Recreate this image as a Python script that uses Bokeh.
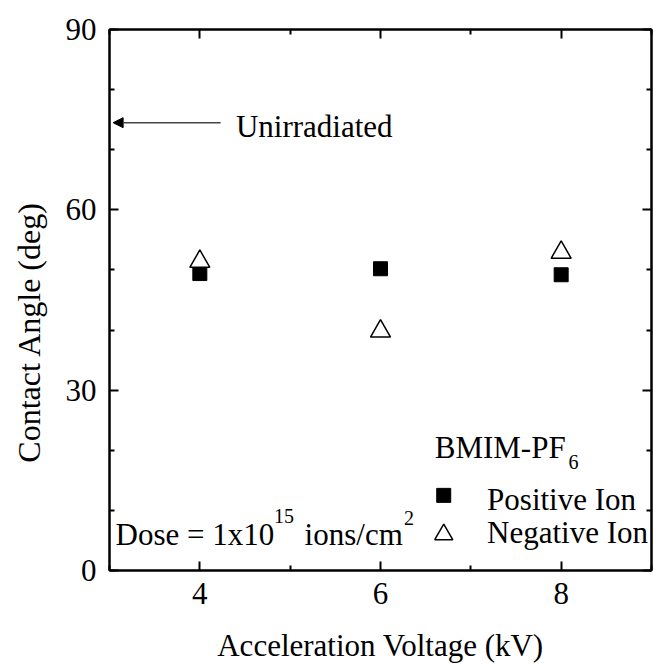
from bokeh.plotting import figure
from bokeh.models import (ColumnDataSource, LinearAxis, FixedTicker, Label,
                          Arrow, NormalHead, Range1d, CustomLabelingPolicy)
from bokeh.embed import file_html
from bokeh.resources import INLINE

# Contact angle of BMIM-PF6 after ion irradiation, per acceleration voltage
voltage_kv = [4, 6, 8]
positive_ion = [49.4, 50.2, 49.2]
negative_ion = [51.4, 39.8, 52.9]
unirradiated_angle = 74.5

x_ticks = [4, 6, 8]
x_minor_ticks = [3, 5, 7, 9]
y_ticks = [0, 30, 60, 90]
y_minor_ticks = [10, 20, 40, 50, 70, 80]

FONT = "Liberation Serif"
BIG = "31px"
SMALL = "20px"

p = figure(width=655, height=665, x_range=Range1d(3, 9), y_range=Range1d(0, 90),
           output_backend="svg", toolbar_location=None,
           x_axis_location=None, y_axis_location=None,
           min_border_left=109, min_border_right=4,
           min_border_top=29, min_border_bottom=95)
p.grid.visible = False
p.outline_line_color = "black"
p.outline_line_width = 2
p.background_fill_color = "white"
p.border_fill_color = "white"

# hides every tick label on the mirrored (top/right) axes
no_labels = CustomLabelingPolicy(code="for (const i of indices) indices.unset(i); return indices")


def make_axis(ticks, minor, labelled, standoff=12):
    ax = LinearAxis(ticker=FixedTicker(ticks=ticks, minor_ticks=minor))
    ax.axis_line_color = "black"
    ax.axis_line_width = 2
    ax.major_tick_in = 9
    ax.major_tick_out = 0
    ax.minor_tick_in = 5
    ax.minor_tick_out = 0
    ax.major_tick_line_width = 2
    ax.minor_tick_line_width = 2
    ax.major_tick_line_color = "black"
    ax.minor_tick_line_color = "black"
    if labelled:
        ax.major_label_text_font = FONT
        ax.major_label_text_font_size = BIG
        ax.major_label_text_color = "black"
        ax.major_label_standoff = standoff
        ax.axis_label_text_font = FONT
        ax.axis_label_text_font_style = "normal"
        ax.axis_label_text_color = "black"
    else:
        ax.major_label_policy = no_labels
        ax.major_label_text_font_size = "0px"
        ax.major_label_standoff = 0
    return ax


x_axis = make_axis(x_ticks, x_minor_ticks, True, 12)
x_axis.axis_label = "Acceleration Voltage (kV)"
x_axis.axis_label_text_font_size = "31px"
x_axis.axis_label_standoff = 21
p.add_layout(x_axis, "below")

y_axis = make_axis(y_ticks, y_minor_ticks, True, 13)
y_axis.axis_label = "Contact Angle (deg)" + "\u00a0" * 8
y_axis.axis_label_text_font_size = "32px"
y_axis.axis_label_standoff = 16
p.add_layout(y_axis, "left")

p.add_layout(make_axis(x_ticks, x_minor_ticks, False), "above")
p.add_layout(make_axis(y_ticks, y_minor_ticks, False), "right")

src = ColumnDataSource(dict(v=voltage_kv, pos=positive_ion, neg=negative_ion))
p.scatter("v", "pos", source=src, marker="square", size=14,
          fill_color="black", line_color="black", line_width=1)
p.scatter("v", "neg", source=src, marker="triangle", size=20,
          fill_color="white", line_color="black", line_width=1.5)

# Unirradiated reference arrow
p.add_layout(Arrow(end=NormalHead(size=10, fill_color="black", line_color="black"),
                   x_start=4.23, y_start=unirradiated_angle,
                   x_end=3.04, y_end=unirradiated_angle,
                   line_color="#444444", line_width=1.5))


def text(x, y, s, size=BIG, **kw):
    p.add_layout(Label(x=x, y=y, text=s, text_font=FONT, text_font_size=size,
                       text_color="black", text_baseline="alphabetic", **kw))


text(4.40, 73.9, "Unirradiated")

# Dose annotation with superscripts
text(3.067, 6.0, "Dose = 1x10")
text(4.82, 9.0, "15", SMALL)
text(5.16, 6.0, "ions/cm")
text(6.26, 8.8, "2", SMALL)

# Legend
text(6.60, 20.4, "BMIM-PF")
text(8.08, 18.1, "6", SMALL)
p.scatter(x=[6.70], y=[12.5], marker="square", size=14,
          fill_color="black", line_color="black")
p.scatter(x=[6.70], y=[6.0], marker="triangle", size=18,
          fill_color="white", line_color="black", line_width=1.5)
text(7.18, 11.8, "Positive Ion")
text(7.18, 6.4, "Negative Ion")

open("out.html", "w").write(file_html(p, INLINE))
